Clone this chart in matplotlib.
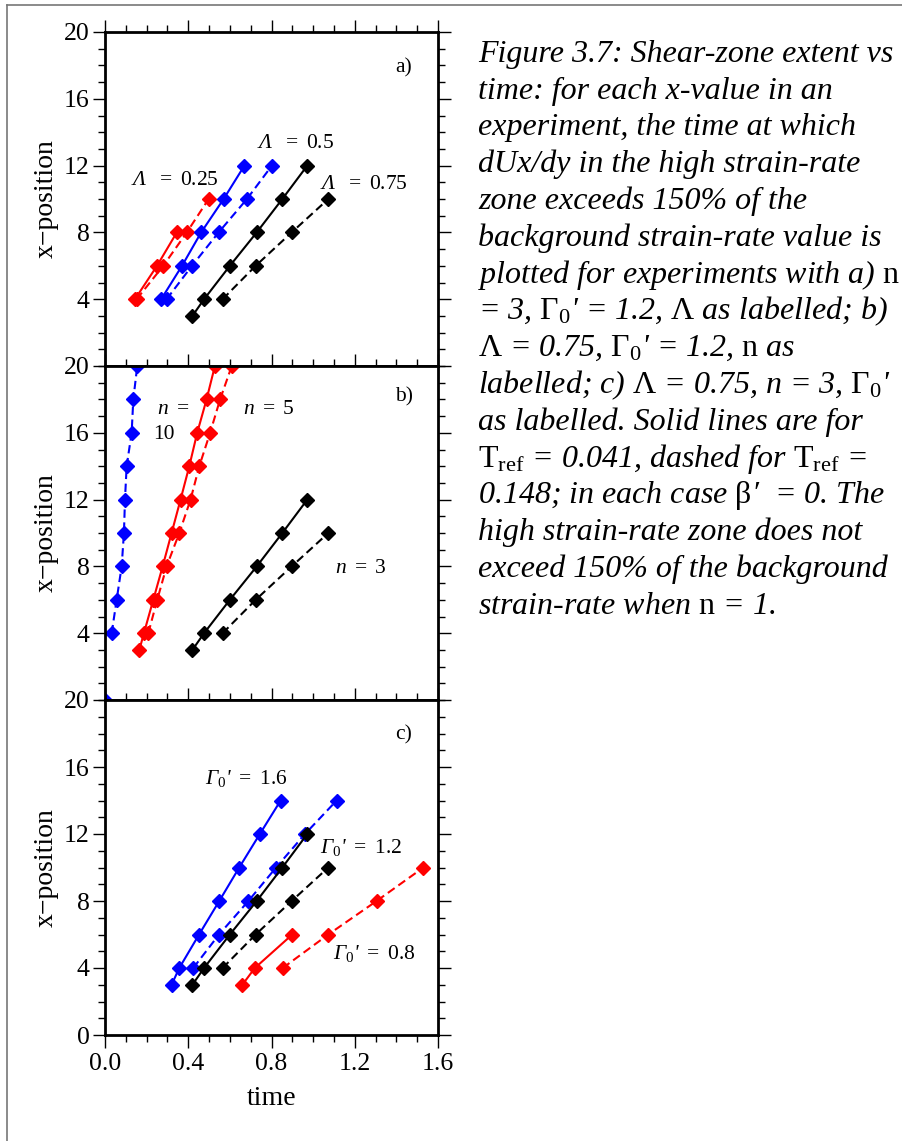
#!/usr/bin/env python3
"""Shear-zone extent vs time, three stacked panels (a: Lambda, b: n, c: Gamma0')
with the figure caption set to the right."""
import matplotlib

matplotlib.use("Agg")
import matplotlib.pyplot as plt
from matplotlib.ticker import MultipleLocator, FixedLocator

plt.rcParams["font.family"] = ["Liberation Serif", "DejaVu Serif"]
plt.rcParams["mathtext.fontset"] = "custom"
plt.rcParams["mathtext.rm"] = "Liberation Serif"
plt.rcParams["mathtext.it"] = "Liberation Serif:italic"
plt.rcParams["mathtext.bf"] = "Liberation Serif:bold"

BLUE, RED, BLACK = "#0000ff", "#ff0000", "#000000"

# shared black series (Lambda=0.75, n=3, Gamma0'=1.2)
blk_solid_t = [0.420, 0.476, 0.600, 0.729, 0.852, 0.972]
blk_solid_x = [3, 4, 6, 8, 10, 12]
blk_dash_t = [0.565, 0.724, 0.897, 1.073]
blk_dash_x = [4, 6, 8, 10]

# a) Lambda = 0.25 (red), 0.5 (blue)
a_red_solid_t = [0.144, 0.250, 0.345]
a_red_solid_x = [4, 6, 8]
a_red_dash_t = [0.152, 0.280, 0.393, 0.498]
a_red_dash_x = [4, 6, 8, 10]
a_blue_solid_t = [0.270, 0.370, 0.462, 0.570, 0.670]
a_blue_solid_x = [4, 6, 8, 10, 12]
a_blue_dash_t = [0.296, 0.418, 0.546, 0.682, 0.802]
a_blue_dash_x = [4, 6, 8, 10, 12]

# b) n = 10 (blue), n = 5 (red)
b_blue_dash_t = [0.032, 0.056, 0.080, 0.091, 0.096, 0.104, 0.128, 0.136, 0.155]
b_blue_dash_x = [4, 6, 8, 10, 12, 14, 16, 18, 20]
b_blue_corner_t = [0.0]
b_blue_corner_x = [0.0]
b_red_solid_t = [0.165, 0.187, 0.232, 0.277, 0.320, 0.363, 0.405, 0.443, 0.488, 0.528]
b_red_solid_x = [3, 4, 6, 8, 10, 12, 14, 16, 18, 20]
b_red_dash_t = [0.208, 0.251, 0.296, 0.357, 0.411, 0.453, 0.505, 0.553, 0.609]
b_red_dash_x = [4, 6, 8, 10, 12, 14, 16, 18, 20]

# c) Gamma0' = 1.6 (blue), 0.8 (red)
c_blue_solid_t = [0.320, 0.357, 0.452, 0.549, 0.645, 0.744, 0.844]
c_blue_solid_x = [3, 4, 6, 8, 10, 12, 14]
c_blue_dash_t = [0.424, 0.548, 0.689, 0.822, 0.961, 1.113]
c_blue_dash_x = [4, 6, 8, 10, 12, 14]
c_red_solid_t = [0.660, 0.720, 0.900]
c_red_solid_x = [3, 4, 6]
c_red_dash_t = [0.854, 1.073, 1.305, 1.530]
c_red_dash_x = [4, 6, 8, 10]

caption_lines = [
    "Figure 3.7: Shear-zone extent vs",
    "time: for each x-value in an",
    "experiment, the time at which",
    "dUx/dy in the high strain-rate",
    "zone exceeds 150% of the",
    "background strain-rate value is",
    r"plotted for experiments with a) $\mathrm{n}$",
    r"= 3, $\mathrm{\Gamma_0}$' = 1.2, $\mathrm{\Lambda}$ as labelled; b)",
    r"$\mathrm{\Lambda}$ = 0.75, $\mathrm{\Gamma_0}$' = 1.2, $\mathrm{n}$ as",
    r"labelled; c) $\mathrm{\Lambda}$ = 0.75, n = 3, $\mathrm{\Gamma_0}$'",
    "as labelled. Solid lines are for",
    r"$\mathrm{T_{ref}}$ = 0.041, dashed for $\mathrm{T_{ref}}$ =",
    r"0.148; in each case $\mathrm{\beta}$′  = 0. The",
    "high strain-rate zone does not",
    "exceed 150% of the background",
    r"strain-rate when $\mathrm{n}$ = 1.",
]

W, H = 902, 1141


def draw(ax, t, x, color, dashed):
    kw = dict(color=color, lw=1.5, marker="D", ms=7, mec=color, mfc=color)
    if dashed:
        ax.plot(t, x, linestyle=(0, (4, 2.2)), **kw)
    else:
        ax.plot(t, x, linestyle="-", **kw)


def style(ax, bottom_label):
    ax.set_xlim(0, 1.6)
    ax.set_ylim(0, 20)
    ax.xaxis.set_major_locator(MultipleLocator(0.4))
    ax.xaxis.set_minor_locator(MultipleLocator(0.1))
    if bottom_label:
        ax.yaxis.set_major_locator(FixedLocator([0, 4, 8, 12, 16, 20]))
    else:
        ax.yaxis.set_major_locator(FixedLocator([4, 8, 12, 16, 20]))
    ax.yaxis.set_minor_locator(MultipleLocator(1))
    ax.tick_params(which="both", direction="out", top=True, right=True,
                   labelsize=18.5, width=1.0)
    ax.tick_params(which="major", length=9, pad=2)
    ax.tick_params(which="minor", length=5)
    ax.tick_params(axis="x", labelbottom=bottom_label, pad=4)
    for sp in ax.spines.values():
        sp.set_linewidth(2.0)
    ax.set_ylabel("x\u2212position", fontsize=20, labelpad=4)


fig = plt.figure(figsize=(W / 100, H / 100), dpi=100)
left, width = 105 / W, (438 - 105) / W
ax_a = fig.add_axes([left, 1 - 366 / H, width, 334 / H])
ax_b = fig.add_axes([left, 1 - 700 / H, width, 334 / H])
ax_c = fig.add_axes([left, 1 - 1035 / H, width, 335 / H])

lbl = dict(fontsize=15.5, va="center", ha="left")
ilbl = dict(lbl, fontstyle="italic")

# panel a
draw(ax_a, a_red_solid_t, a_red_solid_x, RED, False)
draw(ax_a, a_red_dash_t, a_red_dash_x, RED, True)
draw(ax_a, a_blue_solid_t, a_blue_solid_x, BLUE, False)
draw(ax_a, a_blue_dash_t, a_blue_dash_x, BLUE, True)
draw(ax_a, blk_solid_t, blk_solid_x, BLACK, False)
draw(ax_a, blk_dash_t, blk_dash_x, BLACK, True)
style(ax_a, False)
ax_a.text(0.125, 11.1, r"Λ  $\mathrm{=}$ $\mathrm{0.25}$", **ilbl)
ax_a.text(0.730, 13.35, r"Λ  $\mathrm{=}$ $\mathrm{0.5}$", **ilbl)
ax_a.text(1.033, 10.84, r"Λ  $\mathrm{=}$ $\mathrm{0.75}$", **ilbl)
ax_a.text(1.394, 17.84, "a)", **lbl)

# panel b
draw(ax_b, b_blue_dash_t, b_blue_dash_x, BLUE, True)
ax_b.plot(b_blue_corner_t, b_blue_corner_x, "D", color=BLUE, ms=7)
draw(ax_b, b_red_solid_t, b_red_solid_x, RED, False)
draw(ax_b, b_red_dash_t, b_red_dash_x, RED, True)
draw(ax_b, blk_solid_t, blk_solid_x, BLACK, False)
draw(ax_b, blk_dash_t, blk_dash_x, BLACK, True)
style(ax_b, False)
ax_b.text(0.250, 17.37, r"n $\mathrm{=}$", **ilbl)
ax_b.text(0.231, 15.87, "10", **lbl)
ax_b.text(0.663, 17.37, r"n $\mathrm{=}$ $\mathrm{5}$", **ilbl)
ax_b.text(1.105, 7.90, r"n $\mathrm{=}$ $\mathrm{3}$", **ilbl)
ax_b.text(1.394, 18.14, "b)", **lbl)

# panel c
draw(ax_c, c_blue_solid_t, c_blue_solid_x, BLUE, False)
draw(ax_c, c_blue_dash_t, c_blue_dash_x, BLUE, True)
draw(ax_c, blk_solid_t, blk_solid_x, BLACK, False)
draw(ax_c, blk_dash_t, blk_dash_x, BLACK, True)
draw(ax_c, c_red_solid_t, c_red_solid_x, RED, False)
draw(ax_c, c_red_dash_t, c_red_dash_x, RED, True)
style(ax_c, True)
ax_c.set_xlabel("time", fontsize=20, labelpad=8)
ax_c.text(0.480, 15.3, r"Γ${}_{0}$' $\mathrm{=}$ $\mathrm{1.6}$", **ilbl)
ax_c.text(1.033, 11.2, r"Γ${}_{0}$' $\mathrm{=}$ $\mathrm{1.2}$", **ilbl)
ax_c.text(1.096, 4.85, r"Γ${}_{0}$' $\mathrm{=}$ $\mathrm{0.8}$", **ilbl)
ax_c.text(1.394, 17.9, "c)", **lbl)

# caption on the right
for i, line in enumerate(caption_lines):
    fig.text(478 / W, 1 - (61.7 + 36.8 * i) / H, line, fontsize=23,
             fontstyle="italic", va="baseline", ha="left")

# page frame (top and left edges visible)
fig.add_artist(plt.Line2D([7 / W, 7 / W], [0, 1 - 5 / H], color="#777777",
                          lw=1.2, transform=fig.transFigure))
fig.add_artist(plt.Line2D([7 / W, 1], [1 - 5 / H, 1 - 5 / H], color="#777777",
                          lw=1.2, transform=fig.transFigure))

fig.savefig("out.png", dpi=100)
